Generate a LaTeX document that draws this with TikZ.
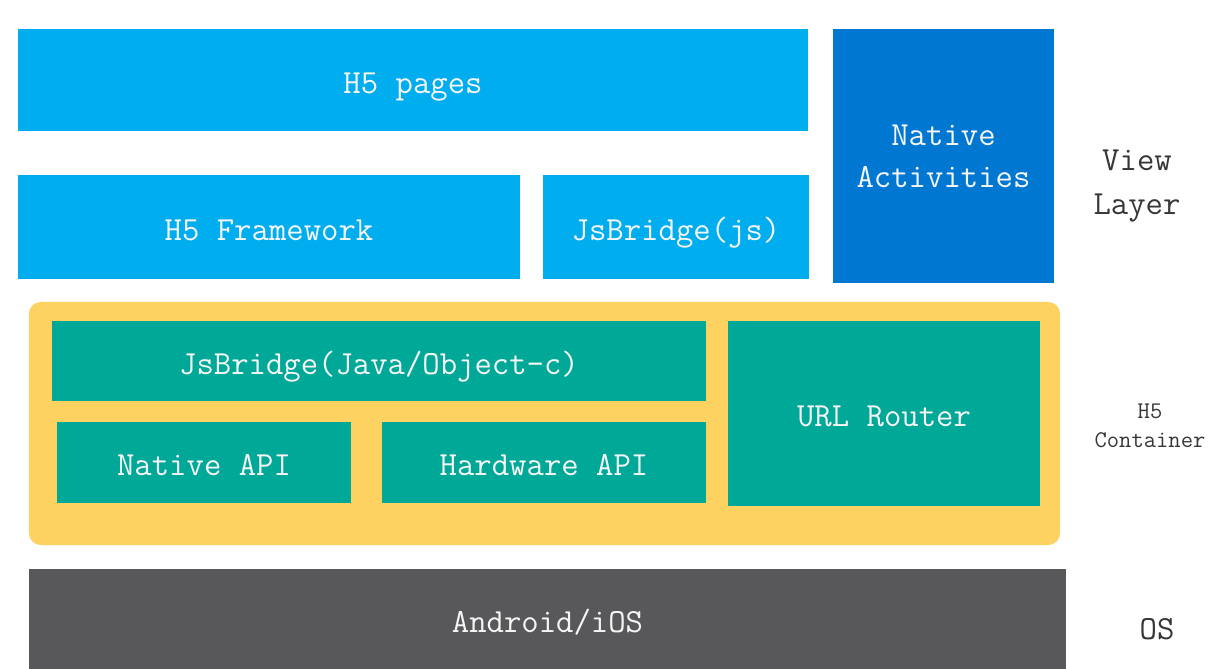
\documentclass[tikz,border=0pt]{standalone}
\usepackage{tikz}

\definecolor{pageblue}{RGB}{0,174,239}
\definecolor{nativeblue}{RGB}{0,120,210}
\definecolor{apiteal}{RGB}{0,168,152}
\definecolor{boxyellow}{RGB}{253,210,96}
\definecolor{osgray}{RGB}{88,87,90}
\definecolor{labelgray}{RGB}{55,55,55}

\begin{document}
\begin{tikzpicture}[x=0.025cm,y=-0.025cm]
    \tikzstyle{block}=[rectangle,inner sep=0pt,text=white!96!black,align=center,
        text height=0.75cm,text depth=0.1cm,
        font=\fontsize{24}{30}\selectfont\ttfamily]
    \tikzstyle{view}=[block,fill=pageblue]
    \tikzstyle{api}=[block,fill=apiteal]
    \tikzstyle{layer}=[text=labelgray,align=center,font=\fontsize{24}{31}\selectfont\ttfamily]

    \useasboundingbox (0,0) rectangle (1212,669);

    \node[view,minimum width=19.75cm,minimum height=2.55cm] at (413,80) (pages) {H5 pages};
    \node[view,minimum width=12.55cm,minimum height=2.6cm] at (269,227) (framework) {H5 Framework};
    \node[view,minimum width=6.65cm,minimum height=2.6cm] at (676,227) (jsbjs) {JsBridge(js)};
    \node[block,text height=,text depth=,fill=nativeblue,minimum width=5.525cm,minimum height=6.35cm] at (943.5,156) (activities) {Native\\Activities};

    \node[rectangle,fill=boxyellow,rounded corners=0.3cm,minimum width=25.775cm,minimum height=6.075cm] at (544.5,423.5) (container) {};
    \node[api,minimum width=16.35cm,minimum height=2.0cm] at (379,361) (jsbjava) {JsBridge(Java/Object-c)};
    \node[api,minimum width=7.35cm,minimum height=2.025cm] at (204,462.5) (nativeapi) {Native API};
    \node[api,minimum width=8.1cm,minimum height=2.025cm] at (544,462.5) (hwapi) {Hardware API};
    \node[api,minimum width=7.8cm,minimum height=4.625cm] at (884,413.5) (router) {URL Router};

    \node[block,fill=osgray,minimum width=25.925cm,minimum height=2.5cm] at (547.5,619) (os) {Android/iOS};

    \node[layer] at (1137,186) (viewlabel) {View\\Layer};
    \node[layer,font=\fontsize{17}{21}\selectfont\ttfamily] at (1150,426) (containerlabel) {H5\\Container};
    \node[layer] at (1157,629) (oslabel) {OS};
\end{tikzpicture}
\end{document}
